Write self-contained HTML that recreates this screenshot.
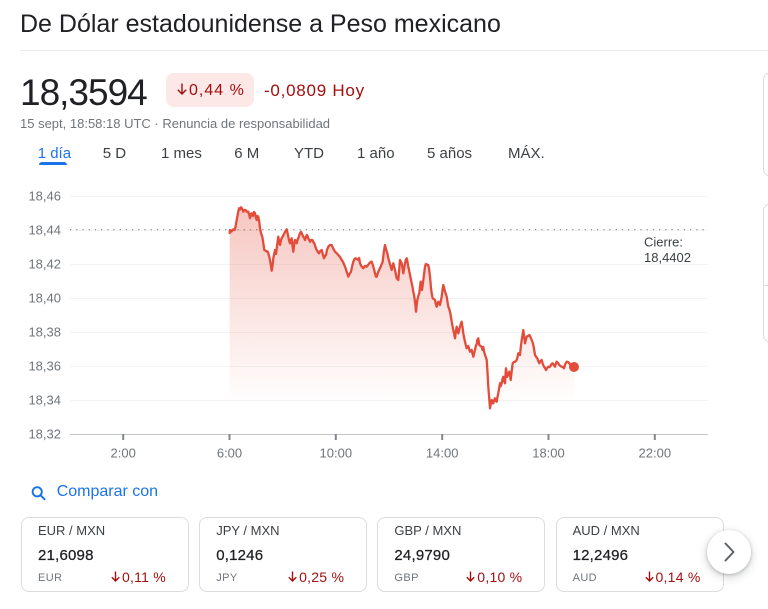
<!DOCTYPE html>
<html>
<head>
<meta charset="utf-8">
<style>
  html,body{margin:0;padding:0;background:#fff;}
  body{width:768px;height:609px;position:relative;overflow:hidden;font-family:"Liberation Sans",Arial,sans-serif;}
  .a{position:absolute;white-space:nowrap;line-height:1;}
  .card{position:absolute;top:517px;width:168px;height:75px;box-sizing:border-box;border:1px solid #dadce0;border-radius:8px;background:#fff;}
  .card .t{position:absolute;left:16px;top:6.3px;font-size:13px;line-height:1;color:#3c4043;white-space:nowrap;}
  .card .v{position:absolute;left:16px;top:30px;font-size:15px;line-height:1;color:#202124;white-space:nowrap;-webkit-text-stroke:0.25px #202124;letter-spacing:0.2px;}
  .card .c{position:absolute;left:16px;top:54.7px;font-size:11px;line-height:1;color:#70757a;letter-spacing:0.4px;}
  .card .p{position:absolute;right:22px;top:51.5px;font-size:14px;line-height:1;color:#a50e0e;letter-spacing:0.25px;white-space:nowrap;}
  .arr{display:inline-block;vertical-align:baseline;margin-right:2px;}
  .tab{position:absolute;top:145.6px;font-size:15px;line-height:1;color:#3c4043;white-space:nowrap;}
</style>
</head>
<body>

<div class="a" style="left:20px;top:11.8px;font-size:25px;color:#202124;">De Dólar estadounidense a Peso mexicano</div>
<div class="a" style="left:20px;top:50px;width:748px;height:1px;background:#ebebeb;"></div>

<div class="a" style="left:20px;top:73.7px;font-size:37px;color:#202124;letter-spacing:-1px;">18,3594</div>
<div class="a" style="left:166px;top:73px;width:88px;height:34px;background:#fce8e6;border-radius:8px;"></div>
<div class="a" style="left:177px;top:82.5px;font-size:16px;color:#a50e0e;letter-spacing:1px;"><svg class="arr" width="10" height="12" viewBox="0 0 10 12"><path d="M5 0.5 V11 M0.8 6.8 L5 11 L9.2 6.8" fill="none" stroke="#a50e0e" stroke-width="1.4"/></svg>0,44 %</div>
<div class="a" style="left:264px;top:81.6px;font-size:17px;color:#a50e0e;letter-spacing:0.75px;">-0,0809 Hoy</div>

<div class="a" style="left:20px;top:117.3px;font-size:13px;color:#70757a;">15 sept, 18:58:18 UTC · Renuncia de responsabilidad</div>

<div class="tab" style="left:37.7px;color:#1a73e8;">1 día</div>
<div class="a" style="left:39px;top:162px;width:28px;height:3px;background:#1a73e8;border-radius:3px 3px 0 0;"></div>
<div class="tab" style="left:102.7px;">5 D</div>
<div class="tab" style="left:161px;">1 mes</div>
<div class="tab" style="left:234.3px;">6 M</div>
<div class="tab" style="left:294px;">YTD</div>
<div class="tab" style="left:357px;">1 año</div>
<div class="tab" style="left:427px;">5 años</div>
<div class="tab" style="left:508px;">MÁX.</div>

<div class="a" style="left:763px;top:72px;width:30px;height:105px;box-sizing:border-box;border:1px solid #dadce0;border-radius:8px;"></div>
<div class="a" style="left:763px;top:203px;width:30px;height:140px;box-sizing:border-box;border:1px solid #dadce0;border-radius:8px;"></div>
<div class="a" style="left:763px;top:285px;width:10px;height:1px;background:#dadce0;"></div>

<svg class="a" style="left:0;top:0;" width="768" height="609" viewBox="0 0 768 609">
  <defs>
    <linearGradient id="g" gradientUnits="userSpaceOnUse" x1="0" y1="205" x2="0" y2="405">
      <stop offset="0" stop-color="#e34c3a" stop-opacity="0.32"/>
      <stop offset="1" stop-color="#e34c3a" stop-opacity="0"/>
    </linearGradient>
  </defs>
  <g stroke="#f1f3f4" stroke-width="1">
    <line x1="70" y1="196.5" x2="708" y2="196.5"/>
    <line x1="70" y1="264.5" x2="708" y2="264.5"/>
    <line x1="70" y1="298.5" x2="708" y2="298.5"/>
    <line x1="70" y1="332.5" x2="708" y2="332.5"/>
    <line x1="70" y1="366.5" x2="708" y2="366.5"/>
    <line x1="70" y1="400.5" x2="708" y2="400.5"/>
    <line x1="70" y1="230.5" x2="708" y2="230.5"/>
  </g>
  <line x1="70" y1="434.5" x2="708" y2="434.5" stroke="#c4c7c5" stroke-width="1"/>
  <g stroke="#80868b" stroke-width="2">
    <line x1="123.2" y1="434" x2="123.2" y2="440"/>
    <line x1="229.5" y1="434" x2="229.5" y2="440"/>
    <line x1="335.8" y1="434" x2="335.8" y2="440"/>
    <line x1="442.2" y1="434" x2="442.2" y2="440"/>
    <line x1="548.5" y1="434" x2="548.5" y2="440"/>
    <line x1="654.8" y1="434" x2="654.8" y2="440"/>
  </g>
  <line x1="70" y1="229.7" x2="708" y2="229.7" stroke="#80868b" stroke-width="1.2" stroke-dasharray="1.3 4.9"/>

  <g font-family="Liberation Sans, Arial, sans-serif" font-size="13" fill="#70757a" text-anchor="end">
    <text x="61" y="200.7">18,46</text>
    <text x="61" y="234.7">18,44</text>
    <text x="61" y="268.7">18,42</text>
    <text x="61" y="302.7">18,40</text>
    <text x="61" y="336.7">18,38</text>
    <text x="61" y="370.7">18,36</text>
    <text x="61" y="404.7">18,34</text>
    <text x="61" y="438.7">18,32</text>
  </g>
  <g font-family="Liberation Sans, Arial, sans-serif" font-size="13" fill="#70757a" text-anchor="middle">
    <text x="123.2" y="457.3">2:00</text>
    <text x="229.5" y="457.3">6:00</text>
    <text x="335.8" y="457.3">10:00</text>
    <text x="442.2" y="457.3">14:00</text>
    <text x="548.5" y="457.3">18:00</text>
    <text x="654.8" y="457.3">22:00</text>
  </g>
  <g font-family="Liberation Sans, Arial, sans-serif" font-size="13" fill="#3c4043">
    <text x="644" y="246.5">Cierre:</text>
    <text x="644" y="262">18,4402</text>
  </g>

  <polygon fill="url(#g)" points="229.7,233 230,230 231.5,231.5 233.3,229.3 234.5,230 235.5,227 236.7,220 238,213 239,208.3 240,209.5 241,207.3 242,208.5 243.3,211.7 244.5,210 245.7,210 247,212 248.3,211.7 249.3,215 250,218.3 251,214 251.7,213.3 253,216 254,212 255,213.3 256,218 256.7,220 257.5,216 258.3,216.7 259.3,222 260,228.3 261,233 262.3,236.7 263.3,243 264.3,250 266,251 267.7,251.7 268.5,254 269.3,256.7 270.5,263 271.7,270.7 272.5,266 273.3,258.3 274.2,254 275,250 276,254 277,246 278.3,236.7 279,241 280,245 281,240 281.7,238.3 283,236 284.3,233.3 285.5,231 286.7,229.3 287.5,233 288.3,236.7 289.2,241 290,243.3 291,240 291.7,238.3 292.5,246 293.3,251.7 294.2,244 295,240 296,241 296.7,243.3 297.5,240 298.3,238.3 299.7,234 301,231.7 302,234 303.3,236.7 304.2,238 305,240 306,237 306.7,235 307.5,236 308.3,238.3 309.2,240 310,241.7 311,240 312.3,240 313.3,242 314.3,243.3 315.5,247 316.7,250 318,252 319,253.3 320.3,251 321.7,250 323,255 324,258.3 325,256 326,255 327,250 328.3,246.7 330,245 331.7,245 333,248 335,251.7 336.5,253 338.3,255 340,257 341.7,260 343,262 344.3,265 345.5,268 346.7,271.7 347.5,274 348.3,276.7 349.5,274 351,271.7 352.2,266 353.3,261.7 354.5,259 355.7,258.3 357,259 358.3,260 359.2,258 360,263.3 361.7,266.7 363.3,268.3 365,266 366.7,266.7 368,265 369.3,263.3 370.5,262 371.7,261.7 372.5,264 373.3,266.7 374.2,270 375,273.3 376,276.7 376.7,276.7 377.5,274 378.3,271.7 379.5,269 380.7,266.7 381.7,264 382.7,261.7 383.8,252 385,245 386,249 387.3,253.3 388.3,258 389.3,261.7 390.5,266 391.7,270 392.5,266 393.3,263.3 394.2,267 395,270 395.8,274 396.7,278.3 397.5,279 398.3,280 399.2,270 400,260 401,262 401.7,263.3 402.5,268 403.3,273.3 404.2,268 405,263.3 405.8,260 406.7,258.3 407.5,262 408.3,266.7 409.2,271 410,275 410.8,279 411.7,283.3 412.5,287 413.3,291.7 414.2,296 415,301.7 415.5,306 416,311.7 416.7,305 417.3,300 418.3,296 419.3,293.3 420,287 420.7,281.7 421.3,286 422,290 422.7,285 423.3,280 424.2,273 425,266.7 425.8,264 426.7,264.3 427.5,265 428.3,265 429.2,270 430,276.7 430.5,282 431,288.3 431.8,294 432.7,298.3 433.8,299 435,300 435.8,304 436.7,306.7 437.5,304 438.3,301.7 439.2,303 440,305 440.8,301 441.7,296.7 442.5,290 443.3,285 444.2,288 445,291.7 445.8,294 446.7,296.7 447.5,302 448.3,306.7 449.2,309 450,311.7 450.8,316 451.7,321.7 452.5,326 453.3,330 454.2,334 455,338.3 455.8,332 456.7,326.7 457.5,330 458.3,333.3 459.2,330 460,326.7 460.8,324 461.7,321.7 462.5,327 463.3,333.3 464.2,338 465,341.7 465.8,345 466.7,348.3 467.5,347 468.3,346 469.2,349 470,351.7 471.7,350 473.3,356.7 474.2,353 475,350 475.8,346 476.7,344 477.3,340 478.3,338.3 479.3,345 480.5,346 481.7,346.7 482.5,350 483.3,347 484.2,352 485,355 485.8,357 486.7,360 487.5,372 488.3,386.7 489.2,398 490,408.3 490.8,404 491.7,400 492.5,403 493.3,403.3 494.2,400 495,398.3 495.8,401 496.7,401.7 497.5,397 498.3,393.3 499.2,388 500,383.3 500.8,386 501.7,383 502.5,379 503.3,376.7 504.2,381 505,383.3 505.5,375 506,368.3 506.7,373 507.3,376.7 508.3,374 509.3,371.7 510,375 510.7,380 511.7,371 512.7,363.3 513.8,362 515,361.7 515.8,361 516.7,360 517.5,357 518.3,353.3 519.2,354 520,355 520.8,347 521.7,340 522.5,335 523.3,330 524.2,337 525,343.3 525.8,340 526.7,336.7 528,336 529.3,335 530.5,337 531.7,340 532.5,342 533.3,345 534.2,350 535,355 536.2,357 537.3,358.3 538.3,361 539.3,363.3 540.5,361 541.7,360 542.8,364 544,366.7 545,368 546,370 547.2,368 548.3,366.7 549.5,367 550.5,366 551.5,364 552.7,363.3 553.8,365 555,366.7 555.8,364 556.7,361.7 558,363 559.3,365 560.5,366 561.7,366.7 562.8,367 564,368.3 565.3,364 566.7,361.7 568,362 569.3,363.3 570.5,365 571.7,366.7 573,367 574,367 574,434 229.7,434"/>

  <polyline fill="none" stroke="#e34c3a" stroke-width="2.3" stroke-linejoin="round" stroke-linecap="round" points="229.7,233 230,230 231.5,231.5 233.3,229.3 234.5,230 235.5,227 236.7,220 238,213 239,208.3 240,209.5 241,207.3 242,208.5 243.3,211.7 244.5,210 245.7,210 247,212 248.3,211.7 249.3,215 250,218.3 251,214 251.7,213.3 253,216 254,212 255,213.3 256,218 256.7,220 257.5,216 258.3,216.7 259.3,222 260,228.3 261,233 262.3,236.7 263.3,243 264.3,250 266,251 267.7,251.7 268.5,254 269.3,256.7 270.5,263 271.7,270.7 272.5,266 273.3,258.3 274.2,254 275,250 276,254 277,246 278.3,236.7 279,241 280,245 281,240 281.7,238.3 283,236 284.3,233.3 285.5,231 286.7,229.3 287.5,233 288.3,236.7 289.2,241 290,243.3 291,240 291.7,238.3 292.5,246 293.3,251.7 294.2,244 295,240 296,241 296.7,243.3 297.5,240 298.3,238.3 299.7,234 301,231.7 302,234 303.3,236.7 304.2,238 305,240 306,237 306.7,235 307.5,236 308.3,238.3 309.2,240 310,241.7 311,240 312.3,240 313.3,242 314.3,243.3 315.5,247 316.7,250 318,252 319,253.3 320.3,251 321.7,250 323,255 324,258.3 325,256 326,255 327,250 328.3,246.7 330,245 331.7,245 333,248 335,251.7 336.5,253 338.3,255 340,257 341.7,260 343,262 344.3,265 345.5,268 346.7,271.7 347.5,274 348.3,276.7 349.5,274 351,271.7 352.2,266 353.3,261.7 354.5,259 355.7,258.3 357,259 358.3,260 359.2,258 360,263.3 361.7,266.7 363.3,268.3 365,266 366.7,266.7 368,265 369.3,263.3 370.5,262 371.7,261.7 372.5,264 373.3,266.7 374.2,270 375,273.3 376,276.7 376.7,276.7 377.5,274 378.3,271.7 379.5,269 380.7,266.7 381.7,264 382.7,261.7 383.8,252 385,245 386,249 387.3,253.3 388.3,258 389.3,261.7 390.5,266 391.7,270 392.5,266 393.3,263.3 394.2,267 395,270 395.8,274 396.7,278.3 397.5,279 398.3,280 399.2,270 400,260 401,262 401.7,263.3 402.5,268 403.3,273.3 404.2,268 405,263.3 405.8,260 406.7,258.3 407.5,262 408.3,266.7 409.2,271 410,275 410.8,279 411.7,283.3 412.5,287 413.3,291.7 414.2,296 415,301.7 415.5,306 416,311.7 416.7,305 417.3,300 418.3,296 419.3,293.3 420,287 420.7,281.7 421.3,286 422,290 422.7,285 423.3,280 424.2,273 425,266.7 425.8,264 426.7,264.3 427.5,265 428.3,265 429.2,270 430,276.7 430.5,282 431,288.3 431.8,294 432.7,298.3 433.8,299 435,300 435.8,304 436.7,306.7 437.5,304 438.3,301.7 439.2,303 440,305 440.8,301 441.7,296.7 442.5,290 443.3,285 444.2,288 445,291.7 445.8,294 446.7,296.7 447.5,302 448.3,306.7 449.2,309 450,311.7 450.8,316 451.7,321.7 452.5,326 453.3,330 454.2,334 455,338.3 455.8,332 456.7,326.7 457.5,330 458.3,333.3 459.2,330 460,326.7 460.8,324 461.7,321.7 462.5,327 463.3,333.3 464.2,338 465,341.7 465.8,345 466.7,348.3 467.5,347 468.3,346 469.2,349 470,351.7 471.7,350 473.3,356.7 474.2,353 475,350 475.8,346 476.7,344 477.3,340 478.3,338.3 479.3,345 480.5,346 481.7,346.7 482.5,350 483.3,347 484.2,352 485,355 485.8,357 486.7,360 487.5,372 488.3,386.7 489.2,398 490,408.3 490.8,404 491.7,400 492.5,403 493.3,403.3 494.2,400 495,398.3 495.8,401 496.7,401.7 497.5,397 498.3,393.3 499.2,388 500,383.3 500.8,386 501.7,383 502.5,379 503.3,376.7 504.2,381 505,383.3 505.5,375 506,368.3 506.7,373 507.3,376.7 508.3,374 509.3,371.7 510,375 510.7,380 511.7,371 512.7,363.3 513.8,362 515,361.7 515.8,361 516.7,360 517.5,357 518.3,353.3 519.2,354 520,355 520.8,347 521.7,340 522.5,335 523.3,330 524.2,337 525,343.3 525.8,340 526.7,336.7 528,336 529.3,335 530.5,337 531.7,340 532.5,342 533.3,345 534.2,350 535,355 536.2,357 537.3,358.3 538.3,361 539.3,363.3 540.5,361 541.7,360 542.8,364 544,366.7 545,368 546,370 547.2,368 548.3,366.7 549.5,367 550.5,366 551.5,364 552.7,363.3 553.8,365 555,366.7 555.8,364 556.7,361.7 558,363 559.3,365 560.5,366 561.7,366.7 562.8,367 564,368.3 565.3,364 566.7,361.7 568,362 569.3,363.3 570.5,365 571.7,366.7 573,367 574,367"/>
  <circle cx="574" cy="367" r="5" fill="#e34c3a"/>

  <circle cx="37.2" cy="491.8" r="4.6" fill="none" stroke="#1a73e8" stroke-width="1.9"/>
  <line x1="40.6" y1="495.3" x2="44.5" y2="499.2" stroke="#1a73e8" stroke-width="2" stroke-linecap="round"/>
</svg>

<div class="a" style="left:56.7px;top:484px;font-size:16px;color:#1a73e8;">Comparar con</div>

<div class="card" style="left:21px;">
  <div class="t">EUR / MXN</div>
  <div class="v">21,6098</div>
  <div class="c">EUR</div>
  <div class="p"><svg class="arr" width="9" height="11" viewBox="0 0 9 11"><path d="M4.5 0.5 V10 M0.8 6.3 L4.5 10 L8.2 6.3" fill="none" stroke="#a50e0e" stroke-width="1.4"/></svg>0,11 %</div>
</div>
<div class="card" style="left:199.2px;">
  <div class="t">JPY / MXN</div>
  <div class="v">0,1246</div>
  <div class="c">JPY</div>
  <div class="p"><svg class="arr" width="9" height="11" viewBox="0 0 9 11"><path d="M4.5 0.5 V10 M0.8 6.3 L4.5 10 L8.2 6.3" fill="none" stroke="#a50e0e" stroke-width="1.4"/></svg>0,25 %</div>
</div>
<div class="card" style="left:377.4px;">
  <div class="t">GBP / MXN</div>
  <div class="v">24,9790</div>
  <div class="c">GBP</div>
  <div class="p"><svg class="arr" width="9" height="11" viewBox="0 0 9 11"><path d="M4.5 0.5 V10 M0.8 6.3 L4.5 10 L8.2 6.3" fill="none" stroke="#a50e0e" stroke-width="1.4"/></svg>0,10 %</div>
</div>
<div class="card" style="left:555.6px;">
  <div class="t">AUD / MXN</div>
  <div class="v">12,2496</div>
  <div class="c">AUD</div>
  <div class="p"><svg class="arr" width="9" height="11" viewBox="0 0 9 11"><path d="M4.5 0.5 V10 M0.8 6.3 L4.5 10 L8.2 6.3" fill="none" stroke="#a50e0e" stroke-width="1.4"/></svg>0,14 %</div>
</div>

<div class="a" style="left:707px;top:530px;width:44px;height:44px;border-radius:50%;background:#fff;box-shadow:0 1px 3px rgba(60,64,67,.3),0 3px 8px 2px rgba(60,64,67,.15);"></div>
<svg class="a" style="left:707px;top:530px;" width="44" height="44" viewBox="0 0 44 44">
  <path d="M18.5 13.5 L26.5 22 L18.5 30.5" fill="none" stroke="#5f6368" stroke-width="2" stroke-linecap="round" stroke-linejoin="round"/>
</svg>

</body>
</html>
